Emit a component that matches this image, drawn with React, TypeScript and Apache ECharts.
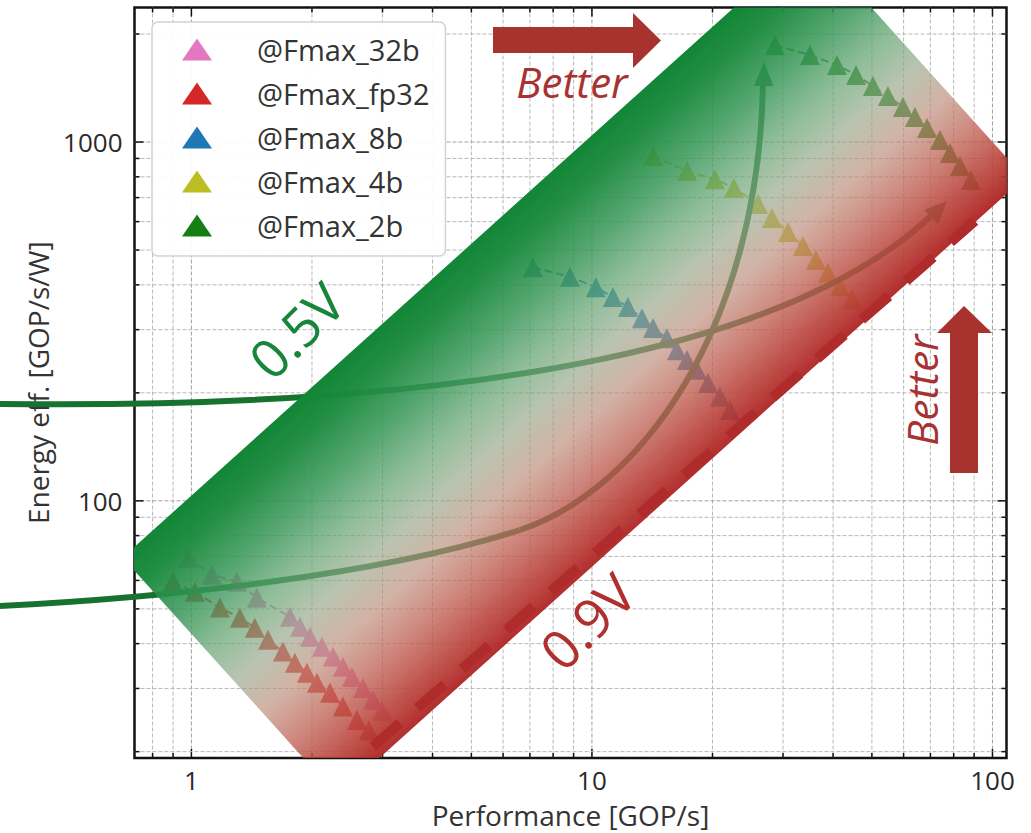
import React, { useEffect, useRef } from 'react';
import * as echarts from 'echarts';

const FONT = '"Open Sans", "Noto Sans", sans-serif';

// ---- data ----
const seriesNames = ['@Fmax_32b', '@Fmax_fp32', '@Fmax_8b', '@Fmax_4b', '@Fmax_2b'];
const seriesColors = ['#e377c2', '#d62728', '#1f77b4', '#bcbd22', '#148014'];

const perf32b = [0.98, 1.125, 1.299, 1.457, 1.762, 1.866, 1.977, 2.118, 2.256, 2.389, 2.516, 2.681, 2.84, 2.991];
const eff32b = [69.4, 62.2, 59.5, 53.7, 47.5, 44.6, 41.8, 39.2, 36.8, 34.5, 32.3, 30.1, 27.9, 26.0];

const perfFp32 = [0.899, 1.02, 1.178, 1.321, 1.44, 1.553, 1.692, 1.813, 1.943, 2.058, 2.218, 2.389, 2.59, 2.775];
const effFp32 = [59.5, 55.8, 50.4, 47.2, 44.3, 41.0, 38.0, 35.4, 33.2, 31.1, 29.2, 26.7, 24.5, 22.9];

const perf8b = [7.12, 8.81, 10.23, 11.28, 12.3, 13.33, 14.21, 15.39, 16.3, 17.27, 18.29, 19.49, 20.87, 22.11];
const eff8b = [448, 421, 394, 370, 347, 323, 303, 284, 263, 247, 232, 213, 195, 179];

const perf4b = [14.21, 17.27, 20.28, 22.62, 25.98, 28.14, 30.86, 33.64, 36.26, 38.85, 41.62, 44.6];
const eff4b = [914, 830, 788, 745, 672, 614, 561, 513, 469, 432, 397, 365];

const perf2b = [28.64, 35.02, 40.9, 45.63, 50.3, 54.83, 59.76, 64.04, 68.63, 73.95, 78.32, 82.96, 88.37];
const eff2b = [1862, 1747, 1639, 1537, 1432, 1343, 1252, 1174, 1094, 1013, 932, 857, 784];

const seriesPerf = [perf32b, perfFp32, perf8b, perf4b, perf2b];
const seriesEff = [eff32b, effFp32, eff8b, eff4b, eff2b];

// shaded operating band: corners A, B (upper/right), C, D (lower/left); A-D green edge, B-C red edge
const bandCorners = [
  [35.0, 3674],
  [120.3, 796],
  [2.314, 15.06],
  [0.6733, 69.5],
];
// 0.9V dashed boundary
const line09Perf = [2.839, 90.4];
const line09Eff = [20.64, 602.6];

const xGridVals = [0.8, 0.9, 1, 2, 3, 4, 5, 6, 7, 8, 9, 10, 20, 30, 40, 50, 60, 70, 80, 90, 100];
const yGridVals = [20, 30, 40, 50, 60, 70, 80, 90, 100, 200, 300, 400, 500, 600, 700, 800, 900, 1000, 2000];

const xMin = 0.721;
const xMax = 108.4;
const yMin = 19.2;
const yMax = 2371;

const isPow10 = (v: number) => Math.abs(Math.log10(v) - Math.round(Math.log10(v))) < 1e-6;

export default function App() {
  const ref = useRef<HTMLDivElement>(null);

  useEffect(() => {
    if (!ref.current) return;
    const chart = echarts.init(ref.current, undefined, { renderer: 'svg' });

    const gridLineStyle = (major: boolean) => ({
      stroke: major ? '#a0a0a0' : '#b8b8b8',
      lineWidth: 1,
      lineDash: [4, 2],
    });
    const tickStyle = { stroke: '#111', lineWidth: 1.5 };

    const triangleSeries = seriesNames.map((name, i) => ({
      name,
      type: 'line',
      data: seriesPerf[i].map((p, j) => [p, seriesEff[i][j]]),
      symbol: 'triangle',
      symbolSize: 20,
      showSymbol: true,
      itemStyle: { color: seriesColors[i] },
      lineStyle: { color: seriesColors[i], width: 2, type: 'dashed' },
      z: 2,
      silent: true,
    }));

    const stops = [
      { offset: 0, color: 'rgba(18,133,54,1)' },
      { offset: 0.1, color: 'rgba(28,139,62,0.97)' },
      { offset: 0.25, color: 'rgba(55,150,87,0.85)' },
      { offset: 0.4, color: 'rgba(102,165,116,0.72)' },
      { offset: 0.52, color: 'rgba(152,168,139,0.68)' },
      { offset: 0.65, color: 'rgba(189,142,123,0.68)' },
      { offset: 0.78, color: 'rgba(192,99,86,0.77)' },
      { offset: 0.9, color: 'rgba(186,69,61,0.9)' },
      { offset: 1, color: 'rgba(176,40,40,0.97)' },
    ];

    const curveColor = '#17722f';

    const option: any = {
      animation: false,
      grid: {
        left: 134.5,
        right: 24.5,
        top: 7.5,
        bottom: 75,
        show: true,
        borderColor: '#111',
        borderWidth: 2.5,
        backgroundColor: 'transparent',
        containLabel: false,
        outerBoundsMode: 'none',
      },
      legend: {
        data: seriesNames,
        orient: 'vertical',
        left: 152,
        top: 22,
        icon: 'triangle',
        itemWidth: 30,
        itemHeight: 22,
        itemGap: 15,
        padding: [13, 16, 16, 30],
        backgroundColor: 'rgba(255,255,255,0.92)',
        borderColor: '#d2d2d2',
        borderWidth: 1.5,
        borderRadius: 6,
        selectedMode: false,
        textStyle: {
          fontFamily: FONT,
          fontSize: 29,
          color: '#333',
          padding: [0, 0, 0, 40],
        },
      },
      xAxis: {
        type: 'log',
        logBase: 10,
        min: xMin,
        max: xMax,
        axisLine: { show: false },
        axisTick: { show: false },
        splitLine: { show: false },
        axisLabel: {
          fontFamily: FONT,
          fontSize: 26,
          color: '#2a2a2a',
          margin: 9,
          showMinLabel: false,
          showMaxLabel: false,
          formatter: (v: number) => (isPow10(v) ? String(Math.round(v)) : ''),
        },
        name: 'Performance [GOP/s]',
        nameLocation: 'middle',
        nameGap: 43,
        nameTextStyle: { fontFamily: FONT, fontSize: 28, color: '#333' },
      },
      yAxis: {
        type: 'log',
        logBase: 10,
        min: yMin,
        max: yMax,
        axisLine: { show: false },
        axisTick: { show: false },
        splitLine: { show: false },
        axisLabel: {
          fontFamily: FONT,
          fontSize: 26,
          color: '#2a2a2a',
          margin: 12,
          showMinLabel: false,
          showMaxLabel: false,
          formatter: (v: number) => (isPow10(v) ? String(Math.round(v)) : ''),
        },
        name: 'Energy eff. [GOP/s/W]',
        nameLocation: 'middle',
        nameGap: 82,
        nameTextStyle: { fontFamily: FONT, fontSize: 28, color: '#333' },
      },
      series: [
        {
          name: 'xgrid',
          type: 'custom',
          coordinateSystem: 'cartesian2d',
          silent: true,
          z: 1,
          data: xGridVals.map((v) => [v, 100]),
          renderItem: (params: any, api: any) => {
            const cs = params.coordSys;
            const v = api.value(0);
            const p = api.coord([v, api.value(1)]);
            const major = isPow10(v);
            const len = major ? 9 : 5;
            const x = p[0];
            return {
              type: 'group',
              children: [
                { type: 'line', shape: { x1: x, y1: cs.y, x2: x, y2: cs.y + cs.height }, style: gridLineStyle(major) },
                { type: 'line', shape: { x1: x, y1: cs.y + cs.height, x2: x, y2: cs.y + cs.height - len }, style: tickStyle },
                { type: 'line', shape: { x1: x, y1: cs.y, x2: x, y2: cs.y + len }, style: tickStyle },
              ],
            };
          },
        },
        {
          name: 'ygrid',
          type: 'custom',
          coordinateSystem: 'cartesian2d',
          silent: true,
          z: 1,
          data: yGridVals.map((v) => [1, v]),
          renderItem: (params: any, api: any) => {
            const cs = params.coordSys;
            const v = api.value(1);
            const p = api.coord([api.value(0), v]);
            const major = isPow10(v);
            const len = major ? 9 : 5;
            const y = p[1];
            return {
              type: 'group',
              children: [
                { type: 'line', shape: { x1: cs.x, y1: y, x2: cs.x + cs.width, y2: y }, style: gridLineStyle(major) },
                { type: 'line', shape: { x1: cs.x, y1: y, x2: cs.x + len, y2: y }, style: tickStyle },
                { type: 'line', shape: { x1: cs.x + cs.width, y1: y, x2: cs.x + cs.width - len, y2: y }, style: tickStyle },
              ],
            };
          },
        },
        ...triangleSeries,
        {
          name: 'band',
          type: 'custom',
          coordinateSystem: 'cartesian2d',
          silent: true,
          clip: true,
          z: 5,
          data: [[1, 100]],
          renderItem: (params: any, api: any) => {
            const pts = bandCorners.map((c) => api.coord(c));
            const g0 = pts[3];
            const g1 = pts[2];
            return {
              type: 'polygon',
              shape: { points: pts },
              style: {
                fill: new echarts.graphic.LinearGradient(g0[0], g0[1], g1[0], g1[1], stops, true),
              },
            };
          },
        },
        {
          name: '0.9V',
          type: 'line',
          data: line09Perf.map((p, i) => [p, line09Eff[i]]),
          showSymbol: false,
          symbol: 'none',
          clip: true,
          silent: true,
          z: 6,
          lineStyle: { color: '#b02c2c', width: 10, type: [36, 23], cap: 'butt' },
        },
      ],
      graphic: {
        elements: [
          {
            type: 'bezierCurve',
            z: 3,
            silent: true,
            shape: { x1: 0, y1: 404, cpx1: 500, cpy1: 410, cpx2: 800, cpy2: 340, x2: 932, y2: 215 },
            style: { stroke: curveColor, lineWidth: 6, fill: null },
          },
          {
            type: 'polygon',
            z: 3,
            silent: true,
            shape: { points: [[947, 201], [938, 224], [924, 210]] },
            style: { fill: curveColor },
          },
          {
            type: 'bezierCurve',
            z: 3,
            silent: true,
            shape: { x1: 0, y1: 606, cpx1: 173, cpy1: 597, cpx2: 380, cpy2: 575, x2: 520, y2: 530 },
            style: { stroke: curveColor, lineWidth: 6, fill: null },
          },
          {
            type: 'bezierCurve',
            z: 3,
            silent: true,
            shape: { x1: 520, y1: 530, cpx1: 640, cpy1: 490, cpx2: 758, cpy2: 330, x2: 763, y2: 84 },
            style: { stroke: curveColor, lineWidth: 6, fill: null },
          },
          {
            type: 'polygon',
            z: 3,
            silent: true,
            shape: { points: [[764, 62], [773.5, 86], [754, 86]] },
            style: { fill: curveColor },
          },
          {
            type: 'text',
            z: 10,
            silent: true,
            x: 296,
            y: 330,
            rotation: Math.PI / 4,
            style: { text: '0.5V', x: 0, y: 0, align: 'center', verticalAlign: 'middle', fontFamily: FONT, fontSize: 54, fill: '#17853a' },
          },
          {
            type: 'text',
            z: 10,
            silent: true,
            x: 587,
            y: 621,
            rotation: Math.PI / 4,
            style: { text: '0.9V', x: 0, y: 0, align: 'center', verticalAlign: 'middle', fontFamily: FONT, fontSize: 54, fill: '#b03030' },
          },
          {
            type: 'rect',
            z: 10,
            silent: true,
            shape: { x: 493, y: 27, width: 141, height: 26 },
            style: { fill: '#a8322d' },
          },
          {
            type: 'polygon',
            z: 10,
            silent: true,
            shape: { points: [[633, 13], [661, 40.5], [633, 68]] },
            style: { fill: '#a8322d' },
          },
          {
            type: 'text',
            z: 10,
            silent: true,
            x: 572,
            y: 81,
            style: { text: 'Better', x: 0, y: 0, align: 'center', verticalAlign: 'middle', fontFamily: FONT, fontStyle: 'italic', fontSize: 42, fill: '#a83232' },
          },
          {
            type: 'rect',
            z: 10,
            silent: true,
            shape: { x: 950, y: 332, width: 28, height: 141 },
            style: { fill: '#a8322d' },
          },
          {
            type: 'polygon',
            z: 10,
            silent: true,
            shape: { points: [[937, 333], [964, 306], [992, 333]] },
            style: { fill: '#a8322d' },
          },
          {
            type: 'text',
            z: 10,
            silent: true,
            x: 921,
            y: 390,
            rotation: Math.PI / 2,
            style: { text: 'Better', x: 0, y: 0, align: 'center', verticalAlign: 'middle', fontFamily: FONT, fontStyle: 'italic', fontSize: 42, fill: '#a83232' },
          },
        ],
      },
    };

    chart.setOption(option);
    return () => {
      chart.dispose();
    };
  }, []);

  return (
    <div
      ref={ref}
      style={{ position: 'absolute', left: 0, top: 0, width: 1031, height: 833, background: '#fff' }}
    />
  );
}
